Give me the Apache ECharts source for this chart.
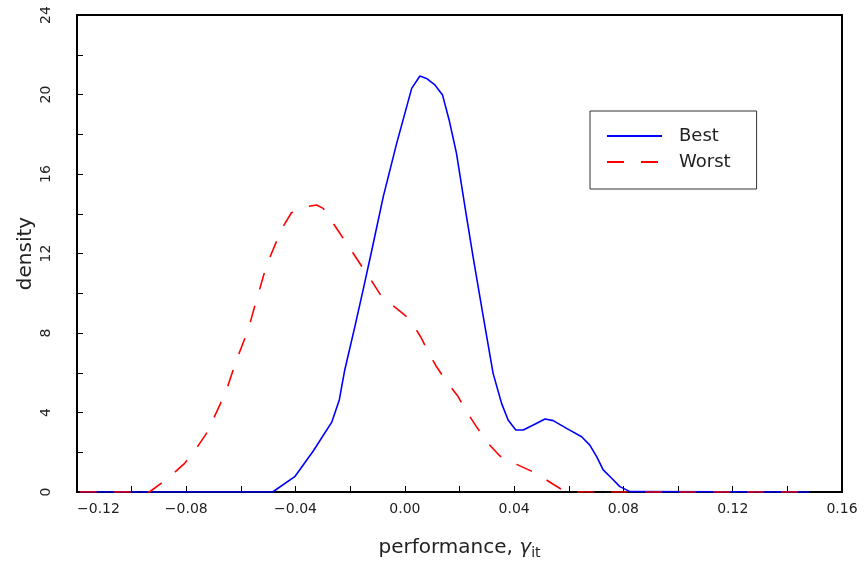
<!DOCTYPE html>
<html>
<head>
<meta charset="utf-8">
<script src="https://cdn.jsdelivr.net/npm/echarts@6/dist/echarts.min.js"></script>
<style>
html,body{margin:0;padding:0;background:#fff;}
#chart{width:865px;height:563px;}
</style>
</head>
<body>
<div id="chart"></div>
<script>
// ---- data ----
const bestX = [-0.119, -0.0484, -0.0403, -0.0336, -0.0268, -0.024, -0.022, -0.0183, -0.0153, -0.0122, -0.0079, -0.003, 0.0025, 0.0055, 0.0079, 0.011, 0.0138, 0.0162, 0.0189, 0.022, 0.025, 0.0287, 0.0323, 0.0354, 0.0378, 0.0406, 0.0433, 0.047, 0.0513, 0.0543, 0.0592, 0.0647, 0.0677, 0.0702, 0.0726, 0.0757, 0.0787, 0.0824, 0.148];
const bestY = [0, 0, 0.77, 2.05, 3.5, 4.63, 6.14, 8.32, 10.16, 12.1, 14.86, 17.54, 20.31, 20.93, 20.81, 20.48, 19.97, 18.72, 17.04, 14.35, 11.8, 8.82, 5.97, 4.46, 3.62, 3.12, 3.12, 3.37, 3.67, 3.59, 3.2, 2.78, 2.36, 1.78, 1.11, 0.69, 0.27, 0.02, 0];
const worstX = [-0.119, -0.0935, -0.086, -0.0806, -0.0763, -0.0726, -0.0677, -0.0653, -0.0616, -0.0574, -0.0543, -0.0513, -0.0488, -0.047, -0.0446, -0.0415, -0.036, -0.0323, -0.0299, -0.0238, -0.0189, -0.0153, -0.0116, -0.0085, -0.0024, 0, 0.0024, 0.0061, 0.0085, 0.0116, 0.0153, 0.0195, 0.0226, 0.0262, 0.0299, 0.0348, 0.0384, 0.0409, 0.0476, 0.0543, 0.059, 0.145];
const worstY = [0, 0, 0.77, 1.44, 2.2, 2.95, 4.38, 5.13, 6.64, 8.15, 9.66, 11.08, 12.01, 12.6, 13.35, 14.05, 14.36, 14.44, 14.27, 13.02, 12.01, 11.25, 10.5, 9.83, 9.16, 8.9, 8.57, 7.73, 7.06, 6.3, 5.55, 4.8, 4.04, 3.29, 2.53, 1.81, 1.52, 1.39, 0.97, 0.39, 0, 0];
const seriesNames = ['Best', 'Worst'];
const xTitle = 'performance, ';
const yTitle = 'density';
const xMin = -0.12, xMax = 0.16, xStep = 0.02;
const yMin = 0, yMax = 24, yStep = 2;

const FONT = 'DejaVu Sans';
const pairs = (xs, ys) => xs.map((x, i) => [x, ys[i]]);

const chart = echarts.init(document.getElementById('chart'), null, {renderer: 'canvas'});
chart.setOption({
  backgroundColor: '#fff',
  animation: false,
  grid: {
    left: 77, right: 23, top: 15, bottom: 71,
    outerBoundsMode: 'none', containLabel: false,
    show: true, borderColor: '#000', borderWidth: 2, backgroundColor: 'transparent'
  },
  legend: {
    orient: 'vertical',
    left: 590, top: 111,
    padding: [15, 26, 17, 16],
    borderColor: '#333', borderWidth: 1,
    itemWidth: 55, itemHeight: 14, itemGap: 6,
    itemStyle: {color: 'rgba(0,0,0,0)', borderColor: 'rgba(0,0,0,0)', borderWidth: 0},
    textStyle: {fontFamily: FONT, fontSize: 18, color: '#222', padding: [0, 0, 0, 12], lineHeight: 20},
    data: seriesNames
  },
  xAxis: {
    type: 'value', min: xMin, max: xMax, interval: xStep,
    name: xTitle + '{g|γ}{s|it}',
    nameLocation: 'middle', nameGap: 44, nameMoveOverlap: false,
    nameTextStyle: {
      fontFamily: FONT, fontSize: 20, color: '#222',
      rich: {
        g: {fontFamily: FONT, fontSize: 20, fontStyle: 'italic', color: '#222'},
        s: {fontFamily: FONT, fontSize: 14, color: '#222', padding: [10, 0, 0, 0]}
      }
    },
    axisLine: {show: true, onZero: false, lineStyle: {color: '#000', width: 2}},
    axisTick: {show: true, inside: true, length: 6, lineStyle: {color: '#000', width: 1}},
    splitLine: {show: false},
    axisLabel: {
      fontFamily: FONT, fontSize: 14, color: '#222', margin: 10,
      alignMinLabel: 'left',
      formatter: v => {
        const k = Math.round(v * 100);
        if (Math.abs(k) % 4 !== 0) return '';
        return (k < 0 ? '\u2212' : '') + Math.abs(v).toFixed(2);
      }
    }
  },
  yAxis: {
    type: 'value', min: yMin, max: yMax, interval: yStep,
    name: yTitle, nameLocation: 'middle', nameGap: 41, nameMoveOverlap: false,
    nameTextStyle: {fontFamily: FONT, fontSize: 20, color: '#222'},
    axisLine: {show: true, onZero: false, lineStyle: {color: '#000', width: 2}},
    axisTick: {show: true, inside: true, length: 6, lineStyle: {color: '#000', width: 1}},
    splitLine: {show: false},
    axisLabel: {
      fontFamily: FONT, fontSize: 14, color: '#222', rotate: 90, margin: 24,
      formatter: v => (Math.round(v) % 4 === 0 ? String(Math.round(v)) : '')
    }
  },
  series: [
    {
      name: seriesNames[0], type: 'line', data: pairs(bestX, bestY),
      symbol: 'none', showSymbol: false, smooth: false,
      color: '#0000ff',
      lineStyle: {color: '#0000ff', width: 1.6}
    },
    {
      name: seriesNames[1], type: 'line', data: pairs(worstX, worstY),
      symbol: 'none', showSymbol: false, smooth: false,
      color: '#ff0000',
      lineStyle: {color: '#ff0000', width: 1.6, type: [17, 17]}
    }
  ]
});
</script>
</body>
</html>
